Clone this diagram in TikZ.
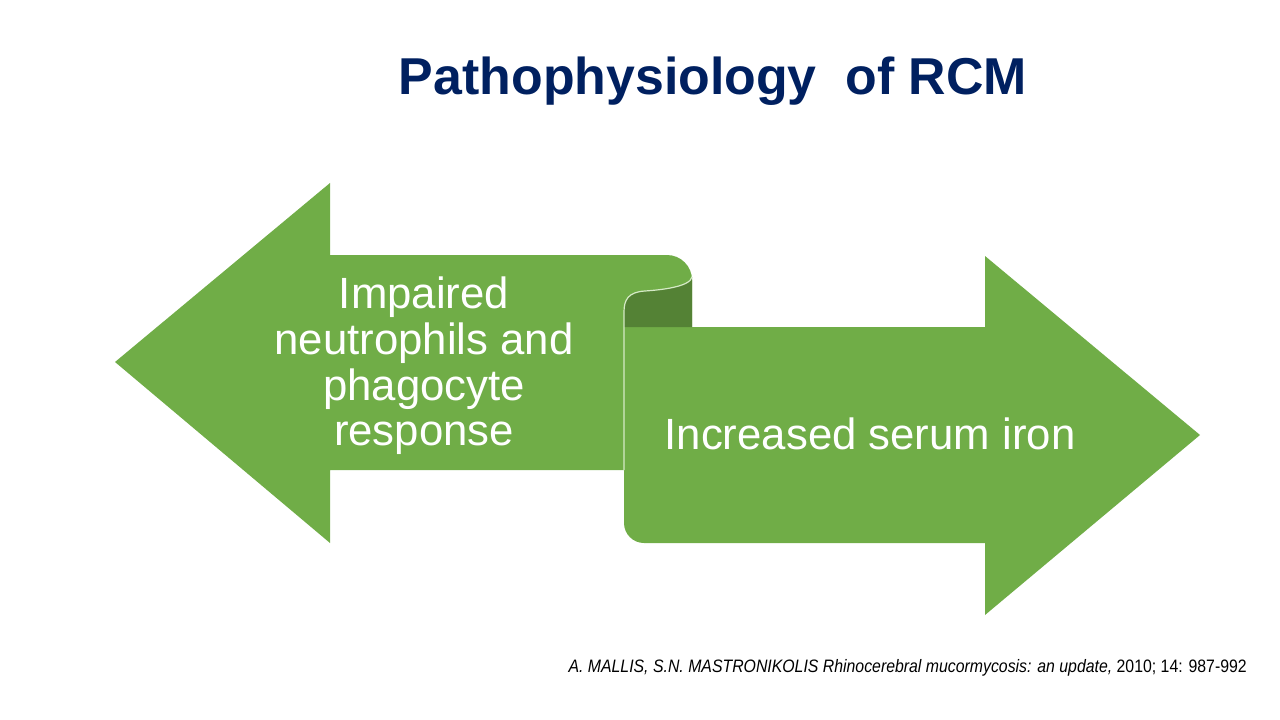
\documentclass[tikz,border=0pt]{standalone}
\usepackage{fontspec}
\setmainfont{Liberation Sans}
\newfontfamily\citefont[FakeStretch=0.88]{Liberation Sans}
\usetikzlibrary{positioning}
\definecolor{ribbon}{HTML}{70AD47}
\definecolor{ribbondark}{HTML}{548235}
\definecolor{ribbonline}{HTML}{D5EAC6}
\definecolor{navy}{HTML}{002060}

\begin{document}
\begin{tikzpicture}[
  x=0.75pt, y=-0.75pt,
  band/.style={fill=ribbon, draw=none},
  inner/.style={fill=ribbondark, draw=none},
  fold/.style={draw=ribbonline, line width=0.9pt},
  label/.style={text=white, align=center, font=\fontsize{32.8}{34.3}\selectfont},
  title/.style={text=navy, font=\fontsize{38.9}{46}\selectfont\bfseries},
  cite/.style={anchor=east, inner sep=0pt, font=\citefont\fontsize{13.5}{16}\selectfont}
]
\useasboundingbox (0,0) rectangle (1280,720);
% left arrow (back of the ribbon)
\path[band] (115,362) -- (330,183) -- (330,255) -- (667,255)
  arc[start angle=270, end angle=360, radius=25] -- (692,327) -- (624,327)
  -- (624,470) -- (330,470) -- (330,543) -- cycle;
% right arrow (front of the ribbon)
\path[band] (624,327) -- (624,523) arc[start angle=180, end angle=90, radius=20]
  -- (985,543) -- (985,615) -- (1200,435) -- (985,256) -- (985,327) -- cycle;
% inside of the curl
\path[inner] (692,277) .. controls (690,287) and (660,290) .. (645,291)
  .. controls (628,292) and (624,300) .. (624,312) -- (624,327) -- (692,327) -- cycle;
\draw[fold] (692,277) .. controls (690,287) and (660,290) .. (645,291)
  .. controls (628,292) and (624,300) .. (624,312) -- (624,470);

\node[title] (head) at (713,81) {Pathophysiology\ \ of RCM};
\node[label] (left) at (424,366) {Impaired\\neutrophils and\\phagocyte\\response};
\node[label] (right) at (870,434) {Increased serum iron};
\node[cite] (src) at (1247,668) {\itshape A. MALLIS, S.N. MASTRONIKOLIS Rhinocerebral mucormycosis: an update, \upshape 2010; 14: 987-992};
\end{tikzpicture}
\end{document}
